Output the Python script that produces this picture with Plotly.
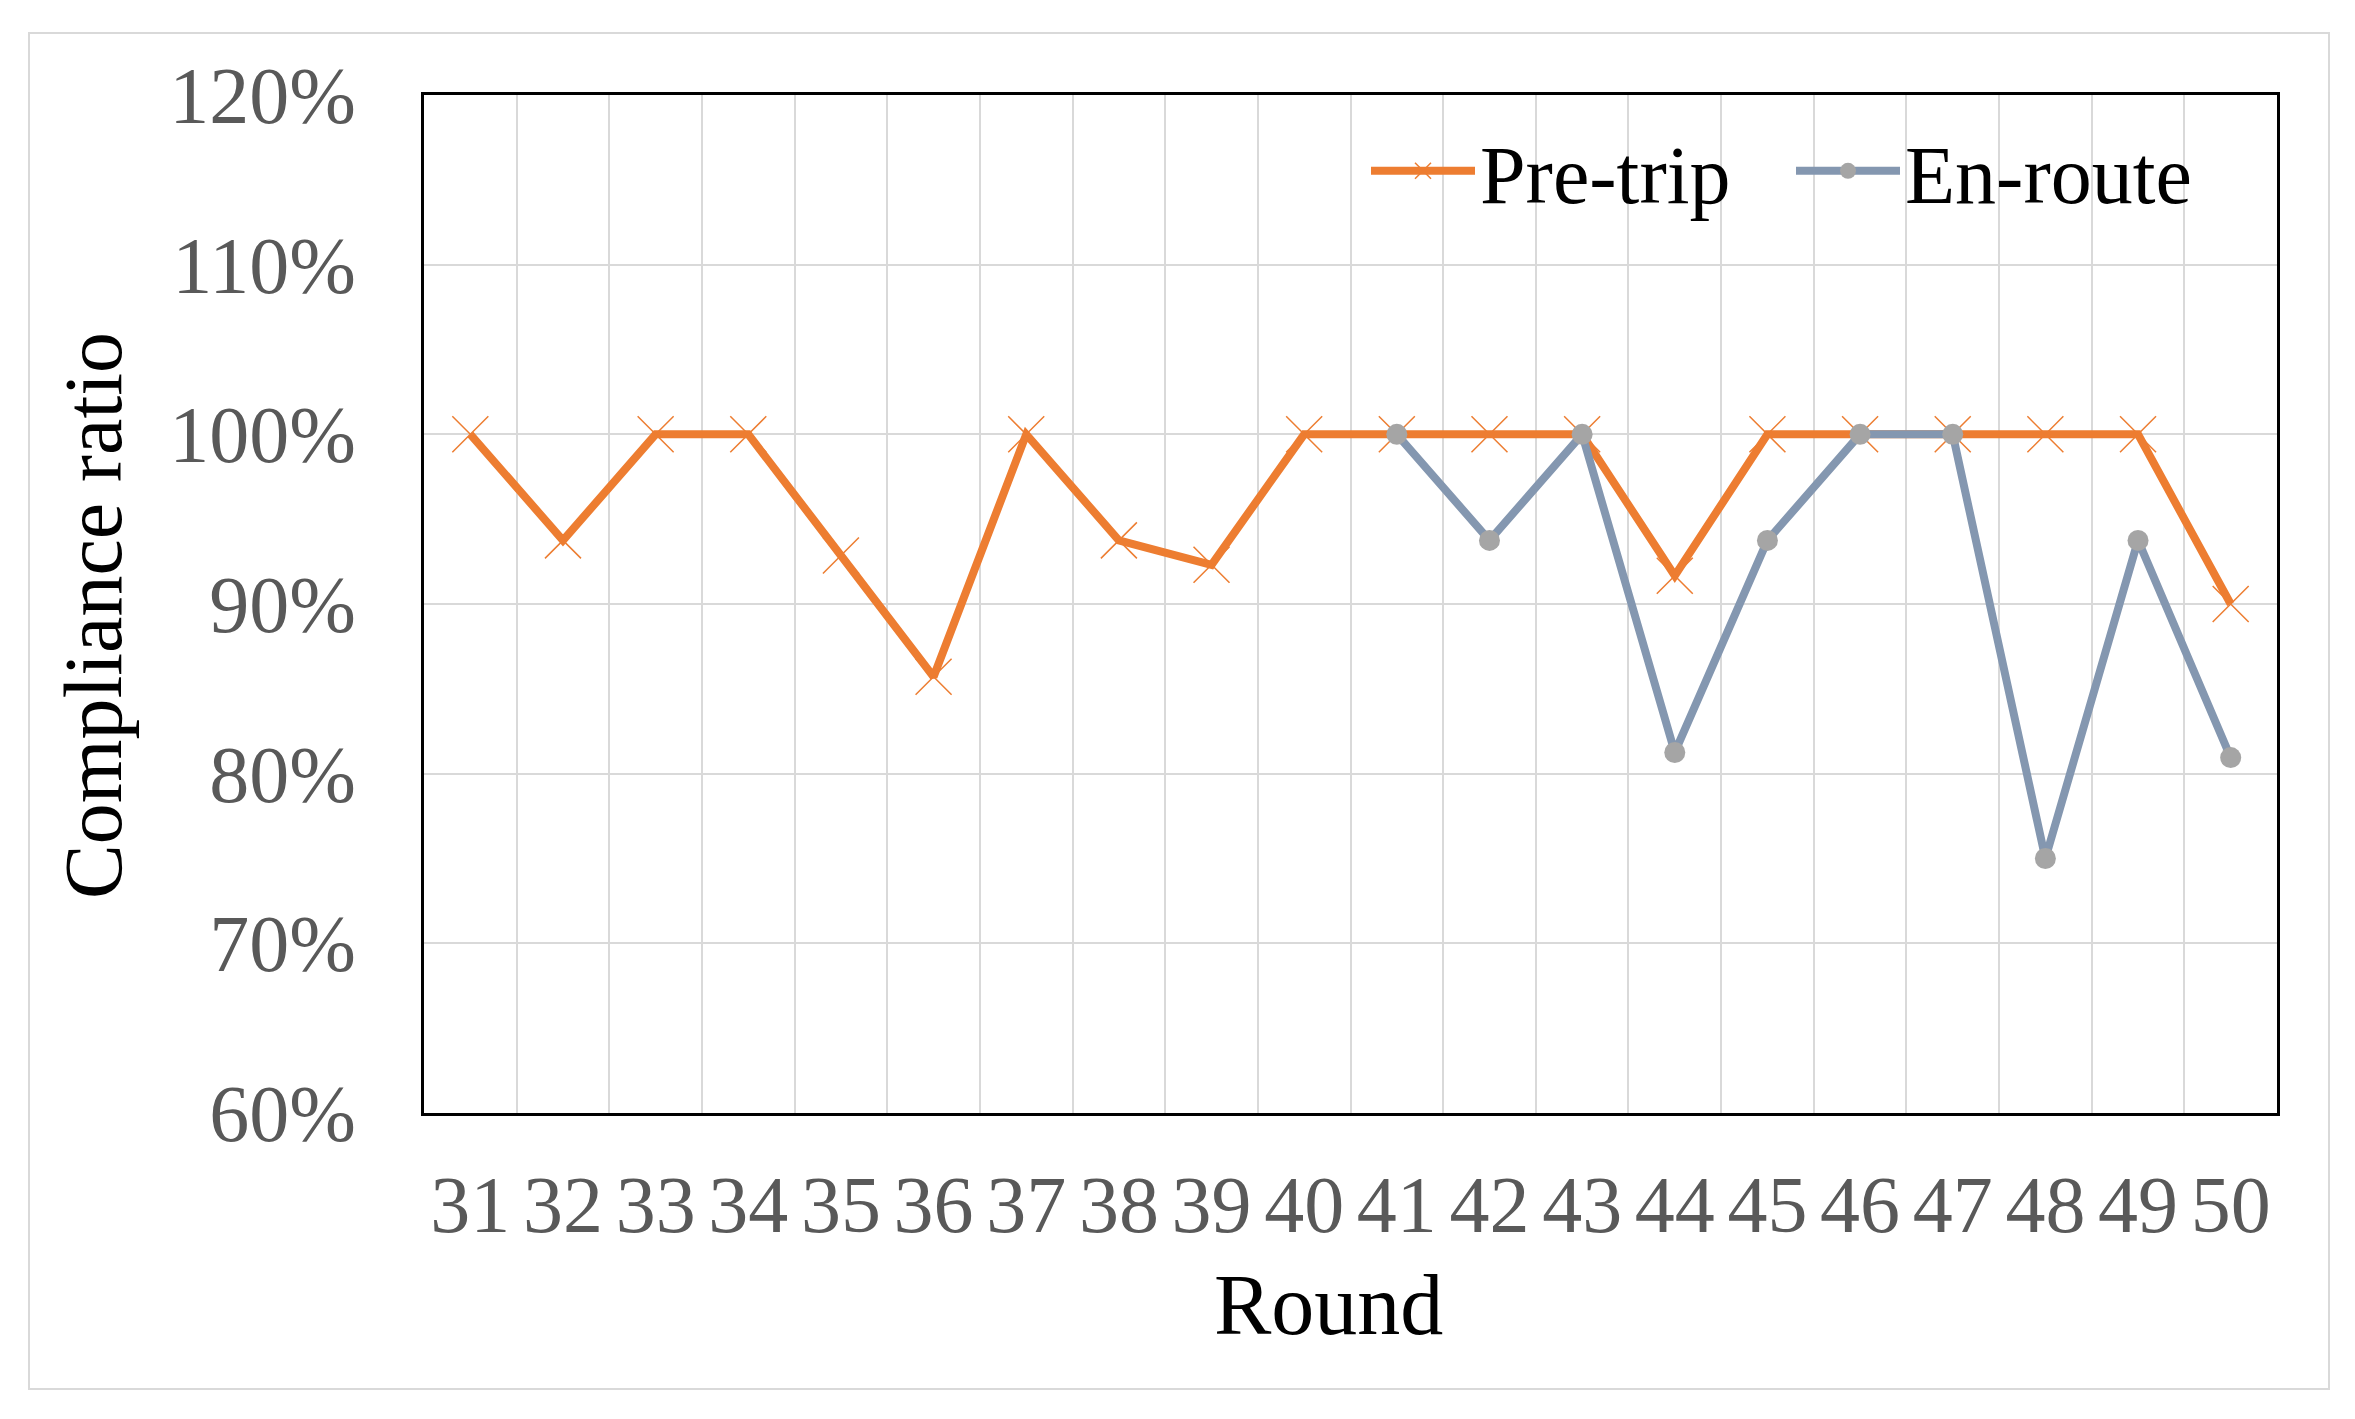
import plotly.graph_objects as go

rounds = [str(r) for r in range(31, 51)]
pre_trip = [1.0, 0.9375, 1.0, 1.0, 0.9286, 0.8571, 1.0, 0.9375, 0.9231, 1.0,
            1.0, 1.0, 1.0, 0.9167, 1.0, 1.0, 1.0, 1.0, 1.0, 0.90]
en_route_rounds = [str(r) for r in range(41, 51)]
en_route = [1.0, 0.9375, 1.0, 0.8125, 0.9375, 1.0, 1.0, 0.75, 0.9375, 0.8095]
y_ticks = [0.6, 0.7, 0.8, 0.9, 1.0, 1.1, 1.2]

ORANGE = "#ED7D31"
BLUE = "#8497B0"
GREY_MK = "#A5A5A5"
FONT = "Liberation Serif"

fig = go.Figure()
fig.add_trace(go.Scatter(
    x=rounds, y=pre_trip, name="Pre-trip", mode="lines+markers",
    line=dict(color=ORANGE, width=8),
    marker=dict(symbol="x-thin-open", size=36, color=ORANGE,
                line=dict(color=ORANGE, width=1.5)),
))
fig.add_trace(go.Scatter(
    x=en_route_rounds, y=en_route, name="En-route", mode="lines+markers",
    line=dict(color=BLUE, width=8),
    marker=dict(symbol="circle", size=21, color=GREY_MK),
))

# page body has an 8px default margin
O = 8
W, H = 2355 - O, 1419 - O
PX0, PX1, PY0, PY1 = 424 - O, 2277 - O, 95 - O, 1113 - O   # plot area in figure coords
L, R, T, B = PX0, W - PX1, PY0, H - PY1
pw, ph = PX1 - PX0, PY1 - PY0

def px(x):
    return (x - O - PX0) / pw

def py(y):
    return (PY1 - (y - O)) / ph

fig.update_layout(
    width=W, height=H,
    margin=dict(l=L, r=R, t=T, b=B, autoexpand=False),
    paper_bgcolor="white", plot_bgcolor="white",
    font=dict(family=FONT, color="#595959", size=80),
    showlegend=True,
    legend=dict(
        x=px(1366), y=py(171), xanchor="left", yanchor="middle",
        orientation="h", font=dict(family=FONT, size=82, color="black"),
        bgcolor="rgba(0,0,0,0)", itemwidth=104,
        entrywidth=306, entrywidthmode="pixels",
    ),
    xaxis=dict(
        type="category", categoryorder="array", categoryarray=rounds,
        tickmode="array", tickvals=rounds, ticktext=rounds, tickangle=0,
        tickson="boundaries", showgrid=True, gridcolor="#D9D9D9", gridwidth=2,
        showline=True, linecolor="black", linewidth=3, mirror=True,
        ticks="", tickfont=dict(family=FONT, size=80, color="#595959"),
        ticklabelstandoff=20,
        range=[-0.5, 19.5],
    ),
    yaxis=dict(
        range=[0.6, 1.2], tickvals=y_ticks, tickformat=".0%",
        showgrid=True, gridcolor="#D9D9D9", gridwidth=2,
        showline=True, linecolor="black", linewidth=3, mirror=True,
        ticks="", tickfont=dict(family=FONT, size=80, color="#595959"),
        ticklabelstandoff=49, zeroline=False,
    ),
    annotations=[
        dict(text="Round", xref="paper", yref="paper", x=px(1328), y=py(1305),
             xanchor="center", yanchor="middle", showarrow=False,
             font=dict(family=FONT, size=86, color="black")),
        dict(text="Compliance ratio", xref="paper", yref="paper", x=px(93), y=py(616),
             xanchor="center", yanchor="middle", showarrow=False, textangle=-90,
             font=dict(family=FONT, size=82, color="black")),
    ],
    shapes=[dict(
        type="rect", xref="paper", yref="paper",
        x0=px(29), x1=px(2329), y0=py(1389), y1=py(33),
        line=dict(color="#D9D9D9", width=2), fillcolor="rgba(0,0,0,0)", layer="below",
    )],
)

fig.write_html("out.html")
